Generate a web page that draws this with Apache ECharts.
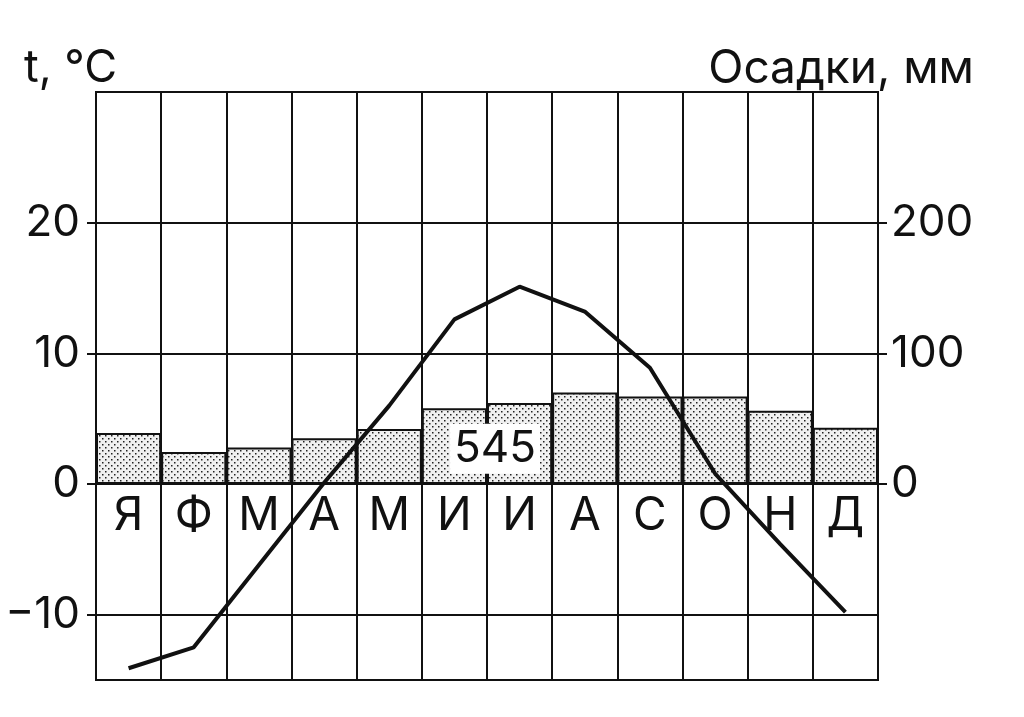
<!DOCTYPE html>
<html><head><meta charset="utf-8">
<script src="https://cdn.jsdelivr.net/npm/echarts@6/dist/echarts.min.js"></script>
<style>html,body{margin:0;padding:0;background:#fff}#c{width:1024px;height:717px}</style>
</head>
<body><div id="c"></div>
<script>
const months = ['Я','Ф','М','А','М','И','И','А','С','О','Н','Д'];
const temperature = [-14.1,-12.5,-6.2,0.1,6.0,12.6,15.1,13.2,8.9,0.8,-4.6,-9.8];
const precipitation = [39,24.5,28,35,42,58,62,70,67,67,56,43];
const tempTicks = [-10,0,10,20];
const precipTicks = [0,100,200];
const annualTotal = '545';

const FONT = 'Inter';
const pat = document.createElement('canvas');
pat.width = 6; pat.height = 6;
const pc = pat.getContext('2d');
pc.fillStyle = '#f0f0f0'; pc.fillRect(0,0,6,6);
pc.fillStyle = '#222';
pc.fillRect(0,0,1.5,1.5); pc.fillRect(3,3,1.5,1.5);

const chart = echarts.init(document.getElementById('c'), null, {renderer:'canvas'});
const fmt = v => v < 0 ? '\u2212' + Math.abs(v) : String(v);
const option = {
  animation: false,
  backgroundColor: '#fff',
  textStyle: {fontFamily: FONT},
  title: [
    {text: 't, °C', left: 19, top: 41, textStyle: {fontFamily: FONT, fontSize: 45, fontWeight: 'normal', color: '#111'}},
    {text: 'Осадки, мм', right: 45, top: 41, textStyle: {fontFamily: FONT, fontSize: 46, fontWeight: 'normal', color: '#111'}}
  ],
  grid: {left: 96, right: 146, top: 92, bottom: 37, show: true, borderColor: '#111', borderWidth: 2,
         backgroundColor: 'transparent', containLabel: false, outerBoundsMode: 'none'},
  xAxis: {
    type: 'category', data: months, boundaryGap: true, position: 'bottom', offset: 0,
    axisLine: {show: true, onZero: false, lineStyle: {color: '#111', width: 2}},
    axisTick: {show: false},
    axisLabel: {interval: 0, margin: 9, fontSize: 46, color: '#111', fontFamily: FONT},
    splitLine: {show: true, interval: 0, lineStyle: {color: '#111', width: 2}}
  },
  yAxis: [
    {type: 'value', min: -15, max: 30, interval: 5, position: 'left',
     axisLine: {show: false},
     axisTick: {show: true, length: 9, customValues: tempTicks, lineStyle: {color: '#111', width: 2}},
     axisLabel: {customValues: tempTicks, formatter: fmt, fontSize: 44, color: '#111', margin: 16, fontFamily: FONT},
     splitLine: {show: true, lineStyle: {color: '#111', width: 2}}},
    {type: 'value', min: -150, max: 300, interval: 50, position: 'right',
     axisLine: {show: false},
     axisTick: {show: true, length: 9, customValues: precipTicks, lineStyle: {color: '#111', width: 2}},
     axisLabel: {customValues: precipTicks, formatter: fmt, fontSize: 44, color: '#111', margin: 13, fontFamily: FONT},
     splitLine: {show: false}}
  ],
  series: [
    {type: 'bar', yAxisIndex: 1, data: precipitation, barWidth: '100%', barGap: '0%', barCategoryGap: '0%',
     itemStyle: {color: {image: pat, repeat: 'repeat'}, borderColor: '#111', borderWidth: 2}, z: 2},
    {type: 'line', yAxisIndex: 0, data: temperature, symbol: 'none', smooth: false,
     lineStyle: {color: '#111', width: 4}, z: 5}
  ]
};
chart.setOption(option);
// place the category axis on the zero line of the temperature axis
const zeroY = chart.convertToPixel({yAxisIndex: 0}, 0);
const bottomY = chart.convertToPixel({yAxisIndex: 0}, -15);
const p5 = chart.convertToPixel({xAxisIndex: 0, yAxisIndex: 1}, [5, 27]);
const p6 = chart.convertToPixel({xAxisIndex: 0, yAxisIndex: 1}, [6, 27]);
chart.setOption({
  xAxis: {offset: zeroY - bottomY},
  graphic: [{
    type: 'text', z: 10,
    x: (p5[0] + p6[0]) / 2 + 8, y: p5[1],
    style: {text: annualTotal, fontFamily: FONT, fontSize: 44, fill: '#111', align: 'center', verticalAlign: 'middle',
            backgroundColor: '#fff', padding: [4, 4, 2, 4]}
  }]
});
</script>
</body></html>
